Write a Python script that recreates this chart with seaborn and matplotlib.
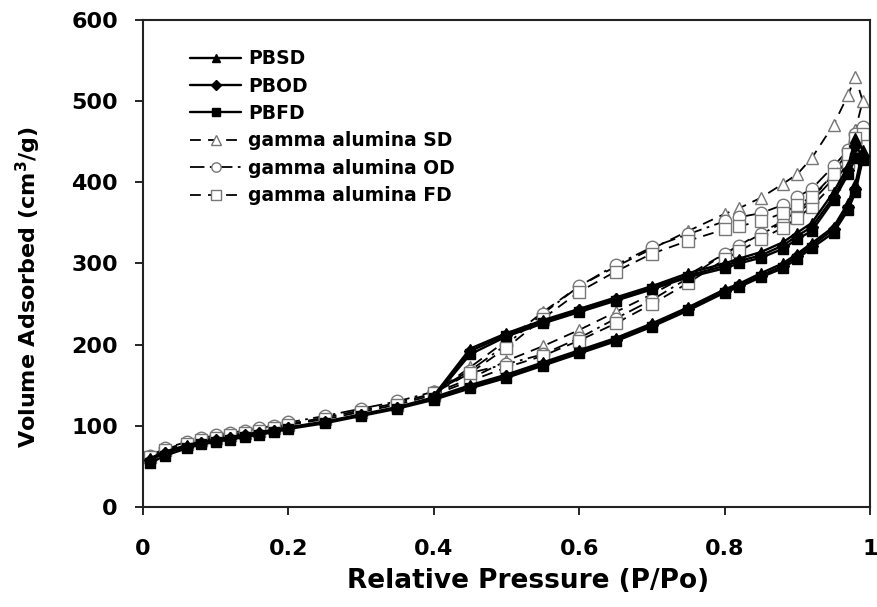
import numpy as np
import pandas as pd
import matplotlib
matplotlib.use("Agg")
import matplotlib.pyplot as plt
import seaborn as sns

# relative pressure points: adsorption branch, then desorption branch
p_ads = [0.01, 0.03, 0.06, 0.08, 0.10, 0.12, 0.14, 0.16, 0.18, 0.20, 0.25, 0.30, 0.35, 0.40,
         0.45, 0.50, 0.55, 0.60, 0.65, 0.70, 0.75, 0.80, 0.82, 0.85, 0.88, 0.90, 0.92, 0.95,
         0.97, 0.98, 0.99]
p_des = [0.98, 0.97, 0.95, 0.92, 0.90, 0.88, 0.85, 0.82, 0.80, 0.75, 0.70, 0.65, 0.60, 0.55,
         0.50, 0.45, 0.40]

pbsd_ads = [60, 68, 76, 80, 83, 86, 89, 92, 95, 98, 105, 114, 123, 135, 150, 163, 178, 193, 208,
            226, 246, 268, 275, 288, 300, 312, 325, 345, 375, 398, 440]
pbsd_des = [455, 420, 388, 350, 338, 326, 314, 306, 300, 288, 272, 258, 244, 230, 214, 195, 137]

pbod_ads = [58, 66, 74, 79, 82, 85, 88, 91, 94, 97, 104, 113, 122, 134, 148, 161, 176, 191, 206,
            224, 244, 266, 273, 285, 297, 309, 322, 342, 370, 392, 432]
pbod_des = [445, 415, 382, 345, 334, 322, 310, 303, 297, 285, 270, 256, 242, 228, 212, 192, 135]

pbfd_ads = [54, 63, 72, 77, 80, 83, 86, 89, 92, 96, 103, 112, 121, 132, 146, 159, 174, 189, 204,
            222, 242, 264, 271, 283, 294, 306, 319, 338, 366, 388, 428]
pbfd_des = [430, 410, 378, 340, 330, 318, 307, 300, 294, 283, 268, 254, 240, 226, 210, 188, 134]

gsd_ads = [62, 71, 79, 83, 86, 89, 92, 95, 98, 102, 110, 119, 128, 140, 158, 180, 198, 218, 240,
           262, 286, 312, 322, 338, 352, 365, 380, 410, 440, 465, 500]
gsd_des = [530, 508, 471, 430, 410, 398, 381, 368, 361, 340, 318, 296, 272, 240, 205, 172, 140]

god_ads = [63, 72, 80, 85, 88, 91, 94, 97, 100, 104, 112, 121, 130, 142, 165, 176, 188, 208, 232,
           255, 282, 312, 322, 336, 350, 362, 376, 405, 430, 450, 468]
god_des = [460, 440, 420, 392, 382, 372, 362, 357, 352, 336, 320, 298, 272, 238, 200, 168, 142]

gfd_ads = [61, 70, 78, 82, 85, 88, 91, 94, 97, 101, 108, 117, 126, 138, 155, 172, 186, 205, 226,
           250, 276, 305, 315, 330, 344, 356, 370, 398, 425, 445, 460]
gfd_des = [455, 435, 410, 382, 372, 362, 352, 346, 342, 328, 312, 290, 265, 232, 196, 165, 140]

series_names = ["PBSD", "PBOD", "PBFD",
                "gamma alumina SD", "gamma alumina OD", "gamma alumina FD"]
series_vals = [(pbsd_ads, pbsd_des), (pbod_ads, pbod_des), (pbfd_ads, pbfd_des),
               (gsd_ads, gsd_des), (god_ads, god_des), (gfd_ads, gfd_des)]

styles = {
    "PBSD": dict(marker="^", ms=7.5, mfc="black", mec="black", ls="-", lw=1.7),
    "PBOD": dict(marker="D", ms=6.5, mfc="black", mec="black", ls="-", lw=1.7),
    "PBFD": dict(marker="s", ms=7.5, mfc="black", mec="black", ls="-", lw=1.7),
    "gamma alumina SD": dict(marker="^", ms=9, mfc="white", mec="#777777", ls=(0, (6, 4)), lw=1.3),
    "gamma alumina OD": dict(marker="o", ms=9, mfc="white", mec="#777777", ls=(0, (8, 3, 1.5, 3)), lw=1.3),
    "gamma alumina FD": dict(marker="s", ms=9, mfc="white", mec="#777777", ls=(0, (6, 4)), lw=1.3),
}

sns.set_style("white")
plt.rcParams["font.family"] = ["DejaVu Sans"]
plt.rcParams["font.weight"] = "bold"
plt.rcParams["text.color"] = "black"
plt.rcParams["axes.labelcolor"] = "black"

fig = plt.figure(figsize=(8.77, 6.07), dpi=100)
ax = fig.add_axes([0.163, 0.165, 0.829, 0.802])

# draw gamma alumina first so the filled PB curves sit on top
order = [3, 4, 5, 0, 1, 2]
for i in order:
    name = series_names[i]
    ads, des = series_vals[i]
    df = pd.DataFrame({"p": p_ads + p_des, "v": ads + des})
    st = styles[name]
    sns.lineplot(data=df, x="p", y="v", sort=False, estimator=None, ax=ax,
                 color="black", linestyle=st["ls"], linewidth=st["lw"],
                 marker=st["marker"], markersize=st["ms"],
                 markerfacecolor=st["mfc"], markeredgecolor=st["mec"],
                 markeredgewidth=1.0, label=name, zorder=3 if i < 3 else 2)

ax.set_xlim(0, 1)
ax.set_ylim(0, 600)
ax.set_xticks([0, 0.2, 0.4, 0.6, 0.8, 1.0])
ax.set_xticklabels(["0", "0.2", "0.4", "0.6", "0.8", "1"])
ax.set_yticks(np.arange(0, 601, 100))
ax.tick_params(axis="both", direction="out", length=6, width=1.2, labelsize=16,
               bottom=True, left=True, colors="black")
ax.tick_params(axis="x", pad=17)
ax.tick_params(axis="y", pad=12)
for lab in ax.get_xticklabels() + ax.get_yticklabels():
    lab.set_fontweight("bold")
for sp in ax.spines.values():
    sp.set_color("#222222")
    sp.set_linewidth(1.5)

ax.set_xlabel("Relative Pressure (P/Po)", fontsize=19, fontweight="bold")
ax.set_ylabel("Volume Adsorbed (cm$^\\mathbf{3}$/g)", fontsize=16, fontweight="bold")
ax.xaxis.set_label_coords(0.53, -0.125)
ax.yaxis.set_label_coords(-0.138, 0.452)

handles, labels = ax.get_legend_handles_labels()
lookup = dict(zip(labels, handles))
leg = ax.legend([lookup[n] for n in series_names], series_names, loc="upper left",
                bbox_to_anchor=(0.042, 0.975), frameon=False, fontsize=13.5,
                handlelength=2.7, labelspacing=0.45, handletextpad=0.4, markerscale=0.75)
for t in leg.get_texts():
    t.set_fontweight("bold")

fig.savefig("out.png", dpi=100)
